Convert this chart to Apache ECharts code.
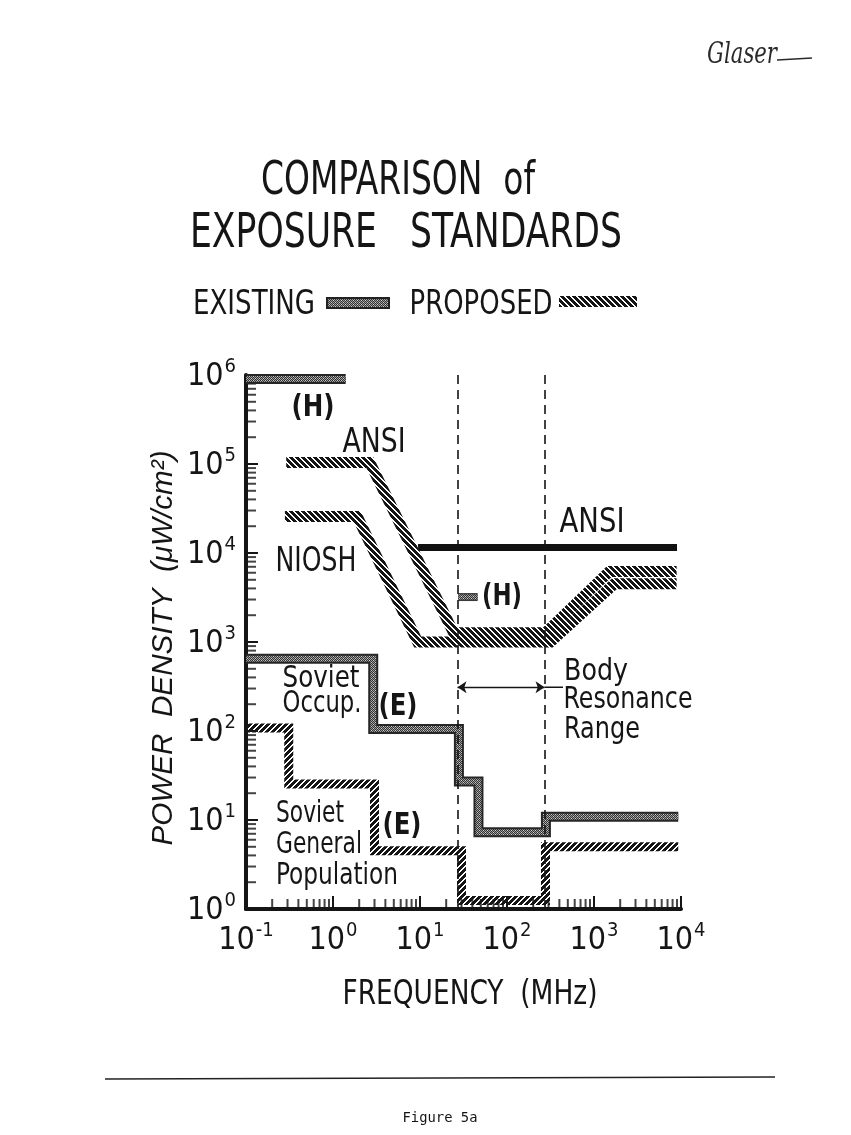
<!DOCTYPE html>
<html>
<head>
<meta charset="utf-8">
<script src="https://cdn.jsdelivr.net/npm/echarts@6/dist/echarts.min.js"></script>
<style>
html,body{margin:0;padding:0;background:#ffffff;}
#chart{width:851px;height:1135px;}
</style>
</head>
<body>
<div id="chart"></div>
<script>
// ---------------- data (frequency in MHz, power density in µW/cm²) ----------------
const xTickValues = [0.1, 1, 10, 100, 1000, 10000];
const xTickExp = ['-1', '0', '1', '2', '3', '4'];
const yTickValues = [1, 10, 100, 1000, 10000, 100000, 1000000];
const yTickExp = ['0', '1', '2', '3', '4', '5', '6'];
const minorMultipliers = [2, 3, 4, 5, 6, 7, 8, 9];
const xDecades = [0.1, 1, 10, 100, 1000];
const yDecades = [1, 10, 100, 1000, 10000, 100000];

// existing standards
const existingH = [[0.1, 9.0e5], [1.4, 9.0e5]];
const existingAnsi = [[9.5, 1.15e4], [9000, 1.15e4]];
const existingHKey = [[27.5, 3.2e3], [46, 3.2e3]];
const sovietOccup = [[0.1, 650], [2.9, 650], [2.9, 105], [28, 105], [28, 27], [47, 27],
                     [47, 7.3], [280, 7.3], [280, 10.9], [9300, 10.9]];
// proposed standards
const proposedAnsi = [[0.29, 1.04e5], [2.65, 1.04e5], [24.3, 1270], [278, 1270],
                      [1500, 6200], [8900, 6200]];
const proposedNiosh = [[0.28, 2.57e4], [1.9, 2.57e4], [9.4, 1000], [316, 1000],
                       [1710, 4500], [8900, 4500]];
const sovietGeneral = [[0.1, 108], [0.31, 108], [0.31, 25.4], [3.0, 25.4], [3.0, 4.5],
                       [30, 4.5], [30, 1.25], [277, 1.25], [277, 5.0], [9300, 5.0]];
// body resonance range
const resonanceBounds = [27, 270];
const resonanceArrow = [[27, 310], [270, 310]];
const resonanceLeader = [[270, 310], [440, 310]];

// ---------------- helpers ----------------
const FONT_N = '"Liberation Sans Narrow","Arial Narrow","DejaVu Sans Condensed","Liberation Sans",Arial,sans-serif';
const FONT_R = '"Liberation Sans",Arial,sans-serif';
const INK = '#151515';

function makeCanvas(w, h, fn) {
  const c = document.createElement('canvas');
  c.width = w; c.height = h;
  fn(c.getContext('2d'));
  return c;
}
function stripes(dir) {
  return makeCanvas(6, 6, g => {
    g.fillStyle = INK;
    for (let y = 0; y < 6; y++) for (let x = 0; x < 6; x++) {
      const v = dir > 0 ? (((x - y) % 6) + 6) % 6 : (x + y) % 6;
      if (v < 4) g.fillRect(x, y, 1, 1);
    }
  });
}
const hatchBack = { image: stripes(1), repeat: 'repeat' };
const hatchFwd = { image: stripes(-1), repeat: 'repeat' };
const stipple = {
  image: makeCanvas(4, 4, g => {
    g.fillStyle = '#9a9a9a'; g.fillRect(0, 0, 4, 4);
    g.fillStyle = '#333333';
    for (let y = 0; y < 4; y++) for (let x = 0; x < 4; x++) if ((x + y) % 2 === 0) g.fillRect(x, y, 1, 1);
    g.fillStyle = '#d0d0d0';
    g.fillRect(1, 0, 1, 1); g.fillRect(3, 2, 1, 1);
  }),
  repeat: 'repeat'
};

const measureCtx = document.createElement('canvas').getContext('2d');
function txt(str, cx, cy, size, targetW, opt) {
  opt = opt || {};
  const family = opt.family || FONT_N;
  const weight = opt.weight || 'normal';
  const style = opt.style || 'normal';
  measureCtx.font = style + ' ' + weight + ' ' + size + 'px ' + family;
  const w = measureCtx.measureText(str).width;
  const s = targetW ? targetW / w : 1;
  return {
    type: 'text', x: cx, y: cy, rotation: opt.rotation || 0,
    scaleX: s, scaleY: 1, silent: true, z: 100,
    style: {
      text: str, fill: opt.color || INK,
      font: style + ' ' + weight + ' ' + size + 'px ' + family,
      textAlign: 'center', textVerticalAlign: 'middle',
      align: 'center', verticalAlign: 'middle'
    }
  };
}

const minorX = [];
xDecades.forEach(d => minorMultipliers.forEach(m => minorX.push([m * d, 1])));
const minorY = [];
yDecades.forEach(d => minorMultipliers.forEach(m => minorY.push([0.1, m * d])));

function stepLine(name, data, color, width, z) {
  return {
    name: name, type: 'line', data: data, symbol: 'none', silent: true, z: z || 2,
    clip: false, animation: false,
    lineStyle: { color: color, width: width, cap: 'butt', join: 'miter' }
  };
}

const axisRich = {
  b: { fontSize: 32, fontFamily: FONT_N, color: INK, lineHeight: 36, verticalAlign: 'bottom' },
  s: { fontSize: 20, fontFamily: FONT_N, color: INK, lineHeight: 20, verticalAlign: 'top', padding: [0, 0, 0, 1] }
};

const chart = echarts.init(document.getElementById('chart'), null, { renderer: 'canvas' });
chart.setOption({
  animation: false,
  backgroundColor: '#ffffff',
  grid: { left: 246, top: 375, width: 435, height: 534, containLabel: false },
  xAxis: {
    type: 'log', logBase: 10, min: 0.1, max: 10000, splitNumber: 5,
    axisLine: { show: true, lineStyle: { color: INK, width: 4 } },
    axisTick: { show: true, inside: true, length: 13, lineStyle: { color: INK, width: 2 } },
    splitLine: { show: false },
    axisLabel: {
      margin: 12, rich: axisRich,
      formatter: v => {
        const i = xTickValues.findIndex(t => Math.abs(Math.log10(t) - Math.log10(v)) < 1e-6);
        return i < 0 ? '' : '{b|10}{s|' + xTickExp[i] + '}';
      }
    }
  },
  yAxis: {
    type: 'log', logBase: 10, min: 1, max: 1000000, splitNumber: 6,
    axisLine: { show: true, lineStyle: { color: INK, width: 4 } },
    axisTick: { show: true, inside: true, length: 12, lineStyle: { color: INK, width: 2 } },
    splitLine: { show: false },
    axisLabel: {
      margin: 10, rich: axisRich,
      formatter: v => {
        const i = yTickValues.findIndex(t => Math.abs(Math.log10(t) - Math.log10(v)) < 1e-6);
        return i < 0 ? '' : '{b|10}{s|' + yTickExp[i] + '}';
      }
    }
  },
  series: [
    { type: 'scatter', data: minorX, symbol: 'rect', symbolSize: [2, 10], symbolOffset: [0, -5],
      itemStyle: { color: INK }, silent: true, z: 1, clip: false },
    { type: 'scatter', data: minorY, symbol: 'rect', symbolSize: [10, 2], symbolOffset: [5, 0],
      itemStyle: { color: INK }, silent: true, z: 1, clip: false },
    stepLine('Existing (H)', existingH, '#262626', 10, 3),
    stepLine('Existing (H) fill', existingH, stipple, 6, 4),
    stepLine('Existing ANSI', existingAnsi, '#111111', 7, 3),
    stepLine('Key (H)', existingHKey, '#3a3a3a', 8, 3),
    stepLine('Key (H) fill', existingHKey, stipple, 5, 4),
    stepLine('Soviet Occup. (E)', sovietOccup, '#262626', 10, 3),
    stepLine('Soviet Occup. (E) fill', sovietOccup, stipple, 6, 4),
    stepLine('Proposed ANSI', proposedAnsi, hatchBack, 11, 5),
    stepLine('Proposed NIOSH', proposedNiosh, hatchBack, 11, 5),
    stepLine('Proposed Soviet General (E)', sovietGeneral, hatchFwd, 9, 5),
    {
      type: 'line', data: resonanceLeader, symbol: 'none', silent: true, z: 6,
      lineStyle: { color: INK, width: 1.3 },
      markLine: {
        silent: true, symbol: 'none', animation: false,
        label: { show: false },
        lineStyle: { color: INK, width: 1.6, type: [9, 6] },
        data: resonanceBounds.map(v => ({ xAxis: v }))
      }
    },
    {
      type: 'lines', coordinateSystem: 'cartesian2d', silent: true, z: 6,
      symbol: ['arrow', 'arrow'], symbolSize: [9, 9],
      lineStyle: { color: INK, width: 1.3, opacity: 1 },
      data: [{ coords: resonanceArrow }]
    }
  ],
  graphic: [
    txt('COMPARISON  of', 398, 182, 46, 274),
    txt('EXPOSURE   STANDARDS', 406, 235, 48, 432),
    txt('EXISTING', 254, 305, 33, 122),
    { type: 'rect', shape: { x: 327, y: 298, width: 62, height: 10 }, silent: true,
      style: { fill: stipple, stroke: '#222', lineWidth: 2 } },
    txt('PROPOSED', 481, 305, 33, 143),
    { type: 'rect', shape: { x: 559, y: 296, width: 78, height: 11 }, silent: true,
      style: { fill: hatchBack } },
    txt('(H)', 313, 408, 31, 43, { weight: 'bold' }),
    txt('ANSI', 374, 443, 34, 63),
    txt('NIOSH', 316, 562, 34, 81),
    txt('ANSI', 592, 523, 34, 65),
    txt('(H)', 502, 597, 31, 40, { weight: 'bold' }),
    txt('Soviet', 321, 679, 30, 77),
    txt('Occup.', 322, 704, 30, 79),
    txt('(E)', 398, 707, 30, 39, { weight: 'bold' }),
    txt('Body', 596, 672, 31, 64),
    txt('Resonance', 628, 700, 31, 129),
    txt('Range', 602, 730, 31, 76),
    txt('Soviet', 310, 814, 31, 68),
    txt('General', 319, 845, 31, 86),
    txt('Population', 337, 876, 31, 122),
    txt('(E)', 402, 826, 30, 39, { weight: 'bold' }),
    txt('FREQUENCY  (MHz)', 470, 995, 33, 255),
    txt('POWER  DENSITY  (\u03bcW/cm\u00b2)', 164, 648, 30, 395,
        { family: FONT_R, style: 'italic', rotation: Math.PI / 2 }),
    txt('Glaser', 742, 55, 30, 70, { family: '"DejaVu Serif",serif', style: 'italic', color: '#2a2a2a' }),
    { type: 'line', shape: { x1: 777, y1: 60, x2: 812, y2: 58 }, silent: true,
      style: { stroke: '#2a2a2a', lineWidth: 1.5 } },
    { type: 'line', shape: { x1: 105, y1: 1079, x2: 775, y2: 1077 }, silent: true,
      style: { stroke: '#222', lineWidth: 1.5 } },
    txt('Figure 5a', 440, 1118, 14, 75, { family: '"DejaVu Sans Mono","Liberation Mono",monospace' })
  ]
});
</script>
</body>
</html>
